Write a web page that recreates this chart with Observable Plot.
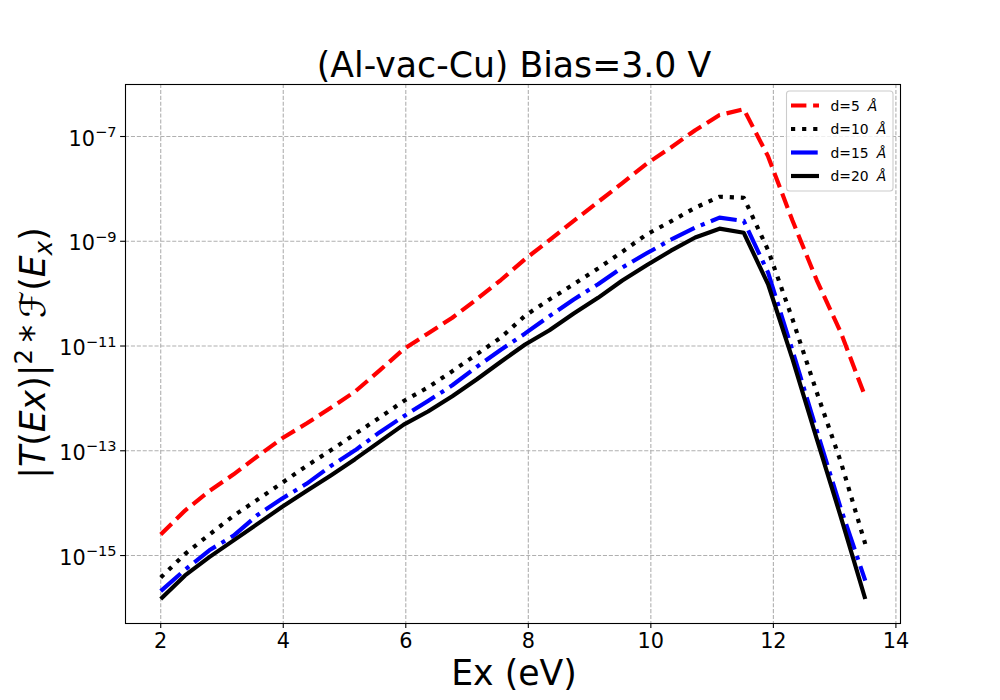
<!DOCTYPE html>
<html>
<head>
<meta charset="utf-8">
<script src="https://cdn.jsdelivr.net/npm/d3@7"></script>
<script src="https://cdn.jsdelivr.net/npm/@observablehq/plot@0.6"></script>
<style>
  body { margin: 0; background: #fff; }
  svg { font-family: "DejaVu Sans", sans-serif; }
</style>
</head>
<body>
<div id="chart"></div>
<script>
// Energy grid (eV)
const ex = [2.000, 2.397, 2.793, 3.190, 3.586, 3.983, 4.379, 4.776, 5.172, 5.569,
            5.966, 6.362, 6.759, 7.155, 7.552, 7.948, 8.345, 8.741, 9.138, 9.534,
            9.931, 10.328, 10.724, 11.121, 11.517, 11.914, 12.310, 12.707, 13.103, 13.500];

// |T(Ex)|^2 * F(Ex) for each gap width
const d5 = [2.51e-15, 7.24e-15, 1.70e-14, 3.55e-14, 7.94e-14, 1.74e-13, 3.31e-13, 6.61e-13, 1.35e-12, 3.39e-12,
            8.71e-12, 1.74e-11, 3.47e-11, 7.76e-11, 1.82e-10, 4.57e-10, 1.05e-9, 2.45e-9, 5.62e-9, 1.29e-8,
            3.02e-8, 6.17e-8, 1.32e-7, 2.57e-7, 3.31e-7, 4.17e-8, 2.51e-9, 1.82e-10, 1.78e-11, 1.07e-12];
const d10 = [3.80e-16, 1.07e-15, 2.51e-15, 5.75e-15, 1.18e-14, 2.45e-14, 5.13e-14, 1.02e-13, 2.09e-13, 4.27e-13,
             8.91e-13, 1.62e-12, 3.31e-12, 6.92e-12, 1.45e-11, 3.80e-11, 7.76e-11, 1.51e-10, 3.02e-10, 6.31e-10,
             1.35e-9, 2.40e-9, 4.37e-9, 7.08e-9, 6.76e-9, 6.76e-10, 3.31e-11, 1.32e-12, 6.03e-14, 1.66e-15];
const d15 = [2.09e-16, 5.37e-16, 1.26e-15, 2.40e-15, 6.03e-15, 1.23e-14, 2.34e-14, 5.13e-14, 1.02e-13, 2.24e-13,
             4.57e-13, 8.91e-13, 1.78e-12, 3.98e-12, 8.51e-12, 1.74e-11, 3.72e-11, 7.76e-11, 1.51e-10, 3.16e-10,
             5.89e-10, 1.07e-9, 1.82e-9, 2.82e-9, 2.45e-9, 2.51e-10, 8.32e-12, 2.45e-13, 7.76e-15, 3.31e-16];
const d20 = [1.48e-16, 4.17e-16, 9.33e-16, 1.95e-15, 4.07e-15, 8.51e-15, 1.70e-14, 3.39e-14, 6.92e-14, 1.48e-13,
             3.16e-13, 5.62e-13, 1.10e-12, 2.29e-12, 5.01e-12, 1.07e-11, 2.00e-11, 4.17e-11, 8.32e-11, 1.78e-10,
             3.47e-10, 6.61e-10, 1.18e-9, 1.74e-9, 1.45e-9, 1.51e-10, 5.75e-12, 1.70e-13, 5.37e-15, 1.48e-16];

const seriesNames = ["d=5", "d=10", "d=15", "d=20"];
const seriesValues = [d5, d10, d15, d20];
const xTicks = [2, 4, 6, 8, 10, 12, 14];
const yTicks = [1e-7, 1e-9, 1e-11, 1e-13, 1e-15];
const yTickExp = ["7", "9", "11", "13", "15"];
const titleText = "(Al-vac-Cu) Bias=3.0 V";
const xLabelText = "Ex (eV)";

const styles = [
  { stroke: "#ff0000", dash: "15.4,6.7" },
  { stroke: "#000000", dash: "4.2,6.9" },
  { stroke: "#0000ff", dash: "26.7,6.7,4.2,6.7" },
  { stroke: "#000000", dash: null }
];

const rows = [];
seriesValues.forEach((arr, k) => arr.forEach((v, i) => rows.push({ x: ex[i], y: v, s: seriesNames[k] })));

const gridStyle = { stroke: "#b0b0b0", strokeOpacity: 1, strokeWidth: 1.1, strokeDasharray: "4.1,1.8" };

const chart = Plot.plot({
  width: 1000,
  height: 700,
  marginLeft: 125,
  marginRight: 100,
  marginTop: 84,
  marginBottom: 77,
  x: { domain: [1.425, 14.075] },
  y: { type: "log", domain: [5.04e-17, 9.84e-7] },
  style: { fontFamily: "DejaVu Sans", fontSize: "20.8px", color: "black", background: "white" },
  marks: [
    Plot.gridX(xTicks, gridStyle),
    Plot.gridY(yTicks, gridStyle),
    Plot.axisX(xTicks, { tickSize: 4.9, tickPadding: 5.3, label: null, tickFormat: d => String(d), fontSize: 20.8, strokeWidth: 1.1 }),
    Plot.axisY(yTicks, { tickSize: 4.9, label: null, tickFormat: () => "", strokeWidth: 1.1 }),
    ...seriesNames.map((name, k) => Plot.line(rows.filter(r => r.s === name), {
      x: "x", y: "y",
      stroke: styles[k].stroke,
      strokeWidth: 4.17,
      strokeDasharray: styles[k].dash,
      strokeLinecap: "butt",
      strokeLinejoin: "round"
    })),
    Plot.frame({ stroke: "black", strokeWidth: 1.1 })
  ]
});

document.getElementById("chart").appendChild(chart);

const svg = d3.select(chart);
const ys = chart.scale("y");

// y tick labels 10^{-n}
yTicks.forEach((t, i) => {
  const py = ys.apply(t);
  const txt = svg.append("text")
    .attr("x", 116.5).attr("y", py + 9.5)
    .attr("text-anchor", "end")
    .attr("font-size", 20.8)
    .attr("fill", "black");
  txt.append("tspan").text("10");
  txt.append("tspan").attr("dy", -8.5).attr("font-size", 14.6).text("\u2212" + yTickExp[i]);
});

// Title
svg.append("text")
  .attr("x", 514).attr("y", 76.5)
  .attr("text-anchor", "middle")
  .attr("font-size", 34.7)
  .attr("fill", "black")
  .text(titleText);

// X label
svg.append("text")
  .attr("x", 514).attr("y", 685)
  .attr("text-anchor", "middle")
  .attr("font-size", 34.7)
  .attr("fill", "black")
  .text(xLabelText);

// Y label (math text)
const yl = svg.append("text")
  .attr("transform", "translate(45,353) rotate(-90)")
  .attr("text-anchor", "middle")
  .attr("font-size", 34.7)
  .attr("fill", "black");
yl.append("tspan").text("|");
yl.append("tspan").attr("font-style", "italic").text("T");
yl.append("tspan").text("(");
yl.append("tspan").attr("font-style", "italic").text("Ex");
yl.append("tspan").text(")|");
yl.append("tspan").attr("dy", -13).attr("font-size", 24.3).text("2");
yl.append("tspan").attr("dy", 13).text("\u2009*\u2009");
yl.append("tspan").attr("font-style", "italic").text("\u2131");
yl.append("tspan").text("(");
yl.append("tspan").attr("font-style", "italic").text("E");
yl.append("tspan").attr("dy", 7).attr("font-size", 24.3).attr("font-style", "italic").text("x");
yl.append("tspan").attr("dy", -7).text(")");

// Legend
const lg = svg.append("g");
lg.append("rect")
  .attr("x", 786.5).attr("y", 91).attr("width", 106.5).attr("height", 100)
  .attr("rx", 3).attr("ry", 3)
  .attr("fill", "white").attr("fill-opacity", 0.8)
  .attr("stroke", "#cccccc").attr("stroke-width", 1.1);
const rowY = [105.5, 129, 152.5, 176];
seriesNames.forEach((name, k) => {
  lg.append("line")
    .attr("x1", 791).attr("x2", 819)
    .attr("y1", rowY[k]).attr("y2", rowY[k])
    .attr("stroke", styles[k].stroke)
    .attr("stroke-width", 4.17)
    .attr("stroke-dasharray", styles[k].dash)
    .attr("stroke-linecap", "butt");
  const t = lg.append("text")
    .attr("x", 830.5).attr("y", rowY[k] + 5)
    .attr("text-anchor", "start")
    .attr("font-size", 13.9)
    .attr("fill", "black");
  t.append("tspan").text(name);
  t.append("tspan").attr("dx", 8).attr("font-style", "italic").text("\u00c5");
});
</script>
</body>
</html>
